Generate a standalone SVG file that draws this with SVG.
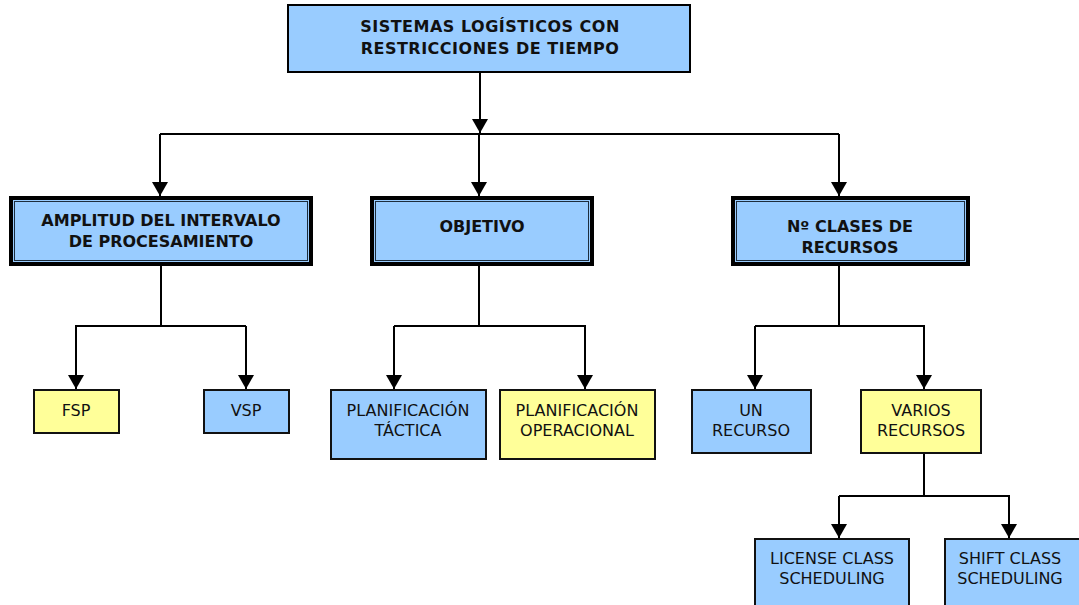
<svg xmlns="http://www.w3.org/2000/svg" width="1079" height="605" viewBox="0 0 1079 605">
  <style>
    .blue { fill: #99CCFF; }
    .yellow { fill: #FFFF99; }
    .leaf { stroke: #111; stroke-width: 2; }
    .outer { fill: #99CCFF; stroke: #000; stroke-width: 4; }
    .inner { fill: none; stroke: #1c2c3c; stroke-width: 1; }
    .head { fill: #99CCFF; stroke: #000; stroke-width: 2; }
    .t { font-family: "DejaVu Sans", Verdana, sans-serif; font-size: 16px; fill: #111; text-anchor: middle; }
    .b { font-weight: bold; }
    .wire { fill: none; stroke: #000; stroke-width: 2; }
  </style>
  <defs>
    <marker id="arrow" markerUnits="userSpaceOnUse" markerWidth="16" markerHeight="14" refX="8" refY="14" orient="0" viewBox="0 0 16 14">
      <path d="M0,0 L16,0 L8,14 Z" fill="#000"/>
    </marker>
  </defs>

  <g id="connectors">
    <path class="wire" d="M480,72 V133" marker-end="url(#arrow)"/>
    <path class="wire" d="M160,134 H839"/>
    <path class="wire" d="M160,134 V196" marker-end="url(#arrow)"/>
    <path class="wire" d="M479,134 V196" marker-end="url(#arrow)"/>
    <path class="wire" d="M839,134 V196" marker-end="url(#arrow)"/>

    <path class="wire" d="M161,266 V326 M75,326 H246"/>
    <path class="wire" d="M76,326 V389" marker-end="url(#arrow)"/>
    <path class="wire" d="M246,326 V389" marker-end="url(#arrow)"/>

    <path class="wire" d="M479,266 V326 M394,326 H586"/>
    <path class="wire" d="M394,326 V389" marker-end="url(#arrow)"/>
    <path class="wire" d="M585,326 V389" marker-end="url(#arrow)"/>

    <path class="wire" d="M839,266 V326 M755,326 H925"/>
    <path class="wire" d="M755,326 V389" marker-end="url(#arrow)"/>
    <path class="wire" d="M924,326 V389" marker-end="url(#arrow)"/>

    <path class="wire" d="M924,453 V496 M839,496 H1010"/>
    <path class="wire" d="M839,496 V538" marker-end="url(#arrow)"/>
    <path class="wire" d="M1009,496 V538" marker-end="url(#arrow)"/>
  </g>

  <g id="root">
    <rect class="head" x="288" y="5" width="402" height="67"/>
    <text class="t b" x="490" y="32" font-size="16.5" letter-spacing="0.5">SISTEMAS LOGÍSTICOS CON</text>
    <text class="t b" x="490" y="54" font-size="16.5" letter-spacing="0.5">RESTRICCIONES DE TIEMPO</text>
  </g>

  <g id="amplitud">
    <rect class="outer" x="11" y="198" width="300" height="66"/>
    <rect class="inner" x="14.5" y="201.5" width="293" height="59"/>
    <text class="t b" x="161" y="226">AMPLITUD DEL INTERVALO</text>
    <text class="t b" x="161" y="247">DE PROCESAMIENTO</text>
  </g>

  <g id="objetivo">
    <rect class="outer" x="372" y="198" width="220" height="66"/>
    <rect class="inner" x="375.5" y="201.5" width="213" height="59"/>
    <text class="t b" x="482" y="232">OBJETIVO</text>
  </g>

  <g id="clases">
    <rect class="outer" x="733" y="198" width="235" height="66"/>
    <rect class="inner" x="736.5" y="201.5" width="228" height="59"/>
    <text class="t b" x="850" y="232">Nº CLASES DE</text>
    <text class="t b" x="850" y="253">RECURSOS</text>
  </g>

  <g id="fsp">
    <rect class="yellow leaf" x="34" y="390" width="85" height="43"/>
    <text class="t" x="76" y="416">FSP</text>
  </g>

  <g id="vsp">
    <rect class="blue leaf" x="204" y="390" width="85" height="43"/>
    <text class="t" x="246" y="416">VSP</text>
  </g>

  <g id="tactica">
    <rect class="blue leaf" x="331" y="390" width="155" height="69"/>
    <text class="t" x="408" y="416">PLANIFICACIÓN</text>
    <text class="t" x="408" y="436">TÁCTICA</text>
  </g>

  <g id="operacional">
    <rect class="yellow leaf" x="500" y="390" width="155" height="69"/>
    <text class="t" x="577" y="416">PLANIFICACIÓN</text>
    <text class="t" x="577" y="436">OPERACIONAL</text>
  </g>

  <g id="un-recurso">
    <rect class="blue leaf" x="692" y="390" width="119" height="63"/>
    <text class="t" x="751" y="416">UN</text>
    <text class="t" x="751" y="436">RECURSO</text>
  </g>

  <g id="varios-recursos">
    <rect class="yellow leaf" x="861" y="390" width="120" height="63"/>
    <text class="t" x="921" y="416">VARIOS</text>
    <text class="t" x="921" y="436">RECURSOS</text>
  </g>

  <g id="license">
    <rect class="blue leaf" x="755" y="539" width="154" height="80"/>
    <text class="t" x="832" y="564">LICENSE CLASS</text>
    <text class="t" x="832" y="584">SCHEDULING</text>
  </g>

  <g id="shift">
    <rect class="blue leaf" x="945" y="539" width="150" height="80"/>
    <text class="t" x="1010" y="564">SHIFT CLASS</text>
    <text class="t" x="1010" y="584">SCHEDULING</text>
  </g>
</svg>
